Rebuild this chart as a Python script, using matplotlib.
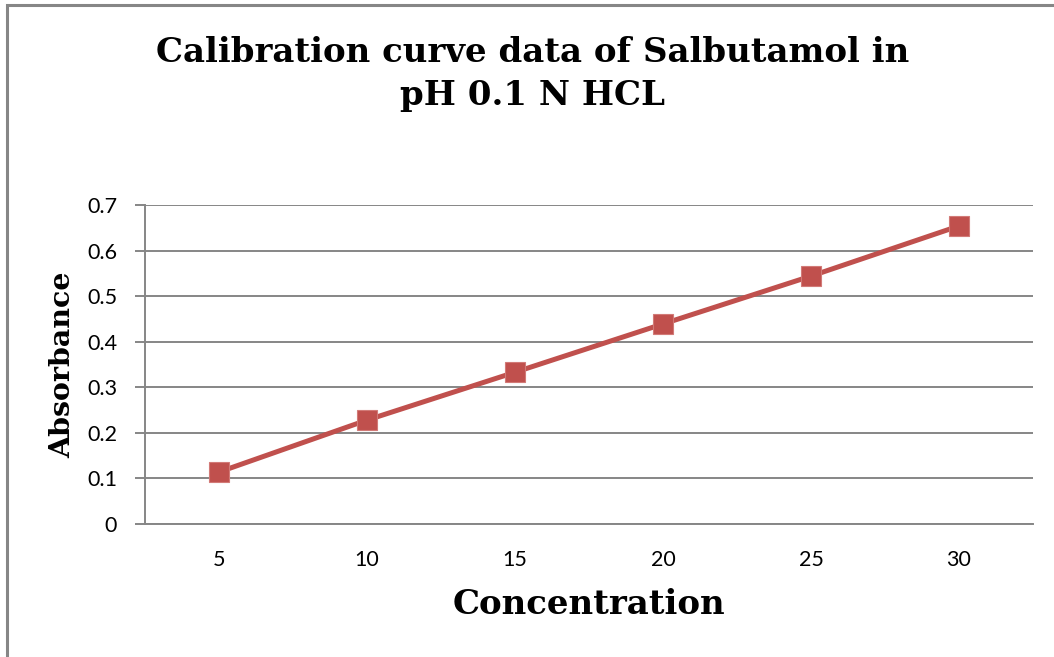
import matplotlib
matplotlib.use('Agg')
from matplotlib import pyplot as plt
from matplotlib.patches import Rectangle

concentration = ['5', '10', '15', '20', '25', '30']
absorbance = [0.114, 0.228, 0.333, 0.439, 0.544, 0.654]
y_ticks = [0, 0.1, 0.2, 0.3, 0.4, 0.5, 0.6, 0.7]

grid_color = '#868686'
line_color = '#C0504D'

fig = plt.figure(figsize=(10.54, 6.57), dpi=100)

# outer chart border (runs off right and bottom edges like the source)
fig.patches.append(Rectangle((7 / 1054, -0.05), 1.2, (657 - 5) / 657 + 0.05,
                             transform=fig.transFigure, fill=False,
                             edgecolor=grid_color, linewidth=2.2))

ax = fig.add_axes([145 / 1054, 1 - 524 / 657, (1033 - 145) / 1054, (524 - 205) / 657])

pos = list(range(1, len(concentration) + 1))
ax.plot(pos, absorbance, color=line_color, linewidth=3.6, marker='s',
        markersize=14.5, markerfacecolor=line_color, markeredgecolor='#D27A77',
        markeredgewidth=0.8, zorder=3)

ax.set_xlim(0.5, len(concentration) + 0.5)
ax.set_ylim(0, 0.7)
ax.set_xticks(pos)
ax.set_xticklabels(concentration)
ax.set_yticks(y_ticks)
ax.set_yticklabels(['0' if v == 0 else '%.1f' % v for v in y_ticks])

ax.grid(axis='y', color=grid_color, linewidth=1.4)
ax.set_axisbelow(True)
for side in ['top', 'right']:
    ax.spines[side].set_visible(False)
for side in ['left', 'bottom']:
    ax.spines[side].set_color(grid_color)
    ax.spines[side].set_linewidth(1.4)

ax.tick_params(axis='y', length=7, width=1.4, color=grid_color, pad=13,
               labelsize=15.5, labelcolor='black')
ax.tick_params(axis='x', length=0, pad=19, labelsize=15.5, labelcolor='black')
for lbl in ax.get_xticklabels() + ax.get_yticklabels():
    lbl.set_fontfamily('Lato')

fig.text(533 / 1054, 1 - 74 / 657, 'Calibration curve data of Salbutamol in\npH 0.1 N HCL',
         ha='center', va='center', fontsize=24.5, fontweight='bold',
         family='DejaVu Serif', linespacing=1.35)

fig.text(589 / 1054, 1 - 604 / 657, 'Concentration', ha='center', va='center',
         fontsize=24.5, fontweight='bold', family='DejaVu Serif')
fig.text(63 / 1054, 1 - 365 / 657, 'Absorbance', ha='center', va='center',
         rotation=90, fontsize=20.5, fontweight='bold', family='DejaVu Serif')

plt.savefig('out.png', dpi=100)
plt.close()
